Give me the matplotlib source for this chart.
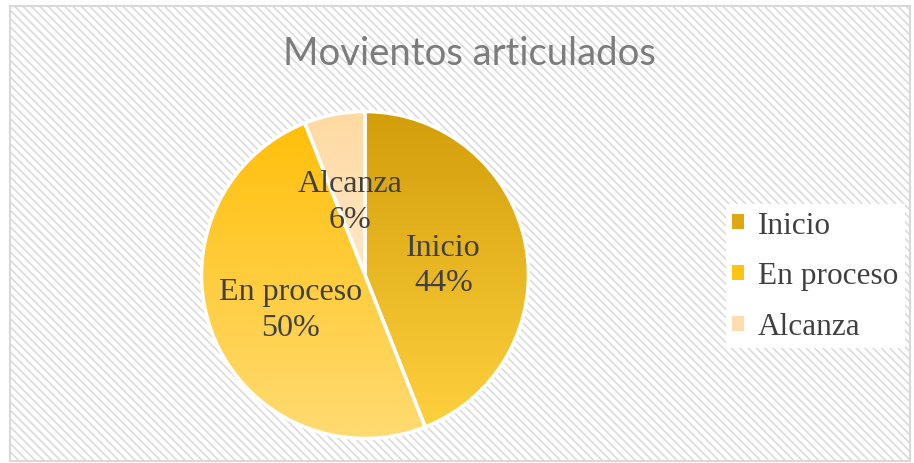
import numpy as np
import matplotlib
matplotlib.use("Agg")
import matplotlib.pyplot as plt
from matplotlib.colors import LinearSegmentedColormap
from matplotlib.patches import Rectangle

# datos del gráfico
categorias = ["Inicio", "En proceso", "Alcanza"]
porcentajes = [44, 50, 6]
etiquetas_pct = ["44%", "50%", "6%"]
titulo = "Movientos articulados"

# gradiente vertical (arriba -> abajo) de cada sector
gradientes = [
    ("#D29E0A", "#FFD03E"),
    ("#FFBF0A", "#FFDB72"),
    ("#FFD9A0", "#FFE8C8"),
]
colores_leyenda = ["#DCA913", "#FFC313", "#FFDDB0"]

plt.rcParams["hatch.linewidth"] = 1.2
plt.rcParams["hatch.color"] = "#dcdcdc"

fig = plt.figure(figsize=(9.14, 4.64), dpi=100)
fig.patch.set_facecolor("white")

# fondo rayado con borde gris
fondo = Rectangle((10 / 914, 2 / 464), 900 / 914, 455 / 464, transform=fig.transFigure,
                  facecolor="white", edgecolor="#dcdcdc", hatch="\\\\\\\\", linewidth=0, zorder=-3)
fig.patches.append(fondo)
borde = Rectangle((10 / 914, 2 / 464), 900 / 914, 455 / 464, transform=fig.transFigure,
                  facecolor="none", edgecolor="#d9d9d9", linewidth=1.5, zorder=-2)
fig.patches.append(borde)

ax = fig.add_axes([(365 - 170) / 914, (188 - 170) / 464, 340 / 914, 340 / 464])
ax.patch.set_visible(False)

wedges, _ = ax.pie(porcentajes, startangle=90, counterclock=False, radius=1.0,
                   wedgeprops=dict(edgecolor="white", linewidth=2.5, facecolor="none"))

for w, (c0, c1) in zip(wedges, gradientes):
    bb = w.get_path().get_extents()
    cmap = LinearSegmentedColormap.from_list("g", [c0, c1])
    grad = np.linspace(0, 1, 256).reshape(-1, 1)
    im = ax.imshow(grad, cmap=cmap, aspect="auto", origin="upper",
                   extent=[bb.x0, bb.x1, bb.y0, bb.y1], zorder=1)
    im.set_clip_path(w)
    w.set_zorder(2)

ax.set_xlim(-1.04, 1.04)
ax.set_ylim(-1.04, 1.04)
ax.set_aspect("equal")
ax.axis("off")

for w, cat, pct in zip(wedges, categorias, etiquetas_pct):
    ang = np.deg2rad((w.theta1 + w.theta2) / 2)
    ax.text(0.49 * np.cos(ang), 0.49 * np.sin(ang) - 0.03, f"{cat}\n{pct}", ha="center",
            va="center", fontsize=23, family="Liberation Serif", color="#404040",
            linespacing=1.3, zorder=3)

fig.text(469 / 914, 1 - 54 / 464, titulo, ha="center", va="center", fontsize=27.5,
         family=["Lato", "DejaVu Sans"], color="#7c7c7c")

# leyenda
handles = [Rectangle((0, 0), 1, 1, facecolor=c, edgecolor="none") for c in colores_leyenda]
leg = fig.legend(handles, categorias, loc="center left", bbox_to_anchor=(726 / 914, 1 - 277 / 464),
                 frameon=True, fancybox=False, prop={"family": "Liberation Serif", "size": 22.5},
                 handlelength=0.38, handleheight=0.38, handletextpad=0.45, labelspacing=0.7,
                 borderpad=0.2, borderaxespad=0)
leg.get_frame().set_facecolor("white")
leg.get_frame().set_edgecolor("none")
leg.get_frame().set_alpha(1)
for t in leg.get_texts():
    t.set_color("#404040")

fig.savefig("out.png", dpi=100)
